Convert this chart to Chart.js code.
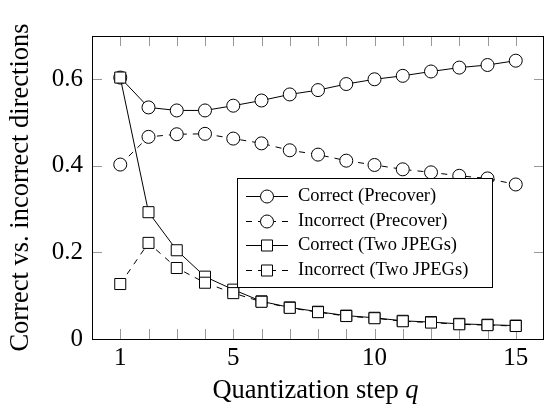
<!DOCTYPE html>
<html>
<head>
<meta charset="utf-8">
<script src="https://cdn.jsdelivr.net/npm/chart.js@4.4.1/dist/chart.umd.min.js"></script>
<style>
  html, body { margin: 0; padding: 0; background: #fff; }
</style>
</head>
<body>
<canvas id="chart" width="545" height="409"></canvas>
<script>
// ====== DATA ======
const steps = [1, 2, 3, 4, 5, 6, 7, 8, 9, 10, 11, 12, 13, 14, 15];
const xTickLabels = [1, 5, 10, 15];
const yTickValues = [0, 0.2, 0.4, 0.6];

const correctPrecover   = [0.604, 0.535, 0.528, 0.528, 0.539, 0.551, 0.565, 0.575, 0.589, 0.600, 0.608, 0.618, 0.627, 0.633, 0.643];
const incorrectPrecover = [0.403, 0.467, 0.473, 0.474, 0.463, 0.452, 0.436, 0.426, 0.412, 0.402, 0.392, 0.385, 0.377, 0.371, 0.357];
const correctTwoJpegs   = [0.604, 0.293, 0.205, 0.144, 0.114, 0.087, 0.073, 0.063, 0.054, 0.049, 0.042, 0.039, 0.035, 0.033, 0.031];
const incorrectTwoJpegs = [0.127, 0.222, 0.164, 0.130, 0.106, 0.086, 0.072, 0.062, 0.053, 0.048, 0.041, 0.038, 0.034, 0.032, 0.030];

const serif = "'Liberation Serif', 'DejaVu Serif', serif";

function series(label, values, style, dashed, order) {
    return {
        label: label,
        data: steps.map((q, i) => ({ x: q, y: values[i] })),
        borderColor: '#000',
        borderWidth: 1,
        borderDash: dashed ? [6, 6] : [],
        pointStyle: style,
        pointRadius: style === 'rect' ? 7.8 : 6.5,
        pointBackgroundColor: '#fff',
        pointBorderColor: '#000',
        pointBorderWidth: 1,
        fill: false,
        tension: 0,
        order: order
    };
}

// ====== FRAME, INNER TICKS, LEGEND, X TITLE ======
const decorations = {
    id: 'decorations',
    beforeDatasetsDraw(chart) {
        const { ctx, chartArea: a, scales: { x, y } } = chart;
        ctx.save();
        ctx.strokeStyle = '#999';
        ctx.lineWidth = 1;
        const len = 10;
        ctx.beginPath();
        steps.forEach(q => {
            const px = Math.round(x.getPixelForValue(q)) + 0.5;
            ctx.moveTo(px, a.bottom); ctx.lineTo(px, a.bottom - len);
            ctx.moveTo(px, a.top); ctx.lineTo(px, a.top + len);
        });
        yTickValues.forEach(v => {
            const py = Math.round(y.getPixelForValue(v)) + 0.5;
            ctx.moveTo(a.left, py); ctx.lineTo(a.left + len, py);
            ctx.moveTo(a.right, py); ctx.lineTo(a.right - len, py);
        });
        ctx.stroke();
        ctx.strokeStyle = '#000';
        ctx.strokeRect(Math.round(a.left) + 0.5, Math.round(a.top) + 0.5,
            Math.round(a.right - a.left) - 1, Math.round(a.bottom - a.top));
        ctx.restore();
    },
    afterDatasetsDraw(chart) {
        const { ctx, chartArea: a } = chart;
        ctx.save();
        // legend box
        const bx = 237, by = 178, bw = 255, bh = 109;
        ctx.fillStyle = '#fff';
        ctx.fillRect(bx, by, bw, bh);
        ctx.strokeStyle = '#000';
        ctx.lineWidth = 1;
        ctx.strokeRect(bx + 0.5, by + 0.5, bw, bh);
        chart.data.datasets.forEach((ds, i) => {
            const cy = Math.round(196 + i * 24.5) + 0.5;
            ctx.strokeStyle = '#000';
            ctx.setLineDash(ds.borderDash);
            ctx.beginPath();
            ctx.moveTo(246, cy); ctx.lineTo(288, cy);
            ctx.stroke();
            ctx.setLineDash([]);
            ctx.fillStyle = '#fff';
            ctx.beginPath();
            if (ds.pointStyle === 'rect') {
                const s = ds.pointRadius * Math.SQRT1_2;
                ctx.rect(267 - s, cy - s, 2 * s, 2 * s);
            } else {
                ctx.arc(267, cy, ds.pointRadius, 0, Math.PI * 2);
            }
            ctx.fill();
            ctx.stroke();
            ctx.fillStyle = '#000';
            ctx.font = '18.5px ' + serif;
            ctx.textBaseline = 'middle';
            ctx.textAlign = 'left';
            ctx.fillText(ds.label, 298, cy);
        });
        // x axis title with italic q
        const main = 'Quantization step ';
        ctx.font = '26.5px ' + serif;
        const w1 = ctx.measureText(main).width;
        ctx.font = 'italic 26.5px ' + serif;
        const w2 = ctx.measureText('q').width;
        const sx = (a.left + a.right) / 2 - (w1 + w2) / 2 - 2.5;
        ctx.textBaseline = 'alphabetic';
        ctx.font = '26.5px ' + serif;
        ctx.fillText(main, sx, 398);
        ctx.font = 'italic 26.5px ' + serif;
        ctx.fillText('q', sx + w1, 398);
        ctx.restore();
    }
};

// ====== CHART ======
const ctx = document.getElementById('chart').getContext('2d');
new Chart(ctx, {
    type: 'line',
    data: {
        datasets: [
            series('Correct (Precover)', correctPrecover, 'circle', false, 4),
            series('Incorrect (Precover)', incorrectPrecover, 'circle', true, 3),
            series('Correct (Two JPEGs)', correctTwoJpegs, 'rect', false, 2),
            series('Incorrect (Two JPEGs)', incorrectTwoJpegs, 'rect', true, 1)
        ]
    },
    options: {
        responsive: false,
        devicePixelRatio: 1,
        animation: false,
        layout: { autoPadding: false, padding: { top: 36, right: 1, left: 0, bottom: 0 } },
        plugins: { legend: { display: false }, tooltip: { enabled: false } },
        scales: {
            x: {
                type: 'linear',
                min: 0,
                max: 16,
                afterFit: s => { s.height = 70; s.paddingLeft = 0; s.paddingRight = 0; },
                afterBuildTicks: s => { s.ticks = xTickLabels.map(v => ({ value: v })); },
                grid: { display: false, drawTicks: false },
                border: { display: false },
                ticks: { color: '#000', padding: 4, maxRotation: 0, font: { family: serif, size: 25 } }
            },
            y: {
                min: 0,
                max: 0.7,
                afterFit: s => { s.width = 92; },
                afterBuildTicks: s => { s.ticks = yTickValues.map(v => ({ value: v })); },
                grid: { display: false, drawTicks: false },
                border: { display: false },
                ticks: {
                    color: '#000', padding: 9, font: { family: serif, size: 25 },
                    callback: v => v === 0 ? '0' : v.toFixed(1)
                },
                title: {
                    display: true,
                    text: 'Correct vs. incorrect directions',
                    color: '#000',
                    align: 'center',
                    padding: { top: 5, bottom: 0 },
                    font: { family: serif, size: 26.5 }
                }
            }
        }
    },
    plugins: [decorations]
});
</script>
</body>
</html>
